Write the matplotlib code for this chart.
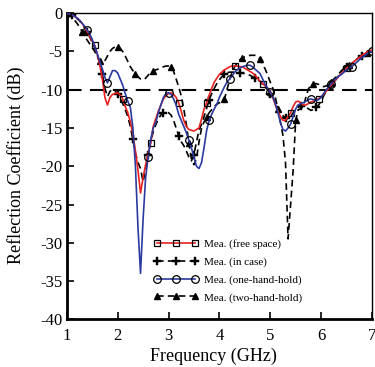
import numpy as np
import matplotlib
matplotlib.use('Agg')
import matplotlib.pyplot as plt

plt.rcParams['font.family'] = 'Liberation Serif'
plt.rcParams['axes.unicode_minus'] = False

# frequency grid (GHz), 0.05 GHz steps
freq = np.round(np.arange(1.0, 7.0001, 0.05), 2)

free_space = [
    0, -0.1, -0.2, -0.4, -0.6, -0.9, -1.3, -1.8, -2.4, -3.0,
    -3.6, -4.2, -5.3, -6.8, -8.6, -11.0, -12.0, -11.0, -10.6, -10.5,
    -10.4, -10.7, -11.2, -12.2, -13.0, -14.2, -15.8, -18.0, -20.5, -23.5,
    -21.5, -19.8, -18.3, -17.0, -14.8, -13.8, -12.8, -12.0, -11.2, -10.8,
    -10.5, -10.4, -10.6, -11.0, -11.7, -12.8, -14.0, -14.8, -15.2, -15.3,
    -15.4, -15.2, -15.0, -13.8, -12.5, -11.7, -10.7, -9.8, -9.0, -8.5,
    -8.0, -7.7, -7.4, -7.2, -7.0, -6.9, -6.9, -6.9, -7.0, -7.0,
    -7.2, -7.4, -7.6, -7.8, -8.1, -8.5, -8.9, -9.2, -9.5, -9.8,
    -10.2, -11.0, -12.0, -12.8, -13.5, -14.0, -14.0, -13.5, -13.0, -12.2,
    -11.6, -11.5, -11.7, -12.0, -12.0, -11.8, -11.6, -11.5, -11.3, -11.2,
    -10.9, -10.6, -10.2, -9.8, -9.4, -9.0, -8.6, -8.2, -7.9, -7.5,
    -7.2, -6.9, -6.6, -6.3, -6.0, -5.8, -5.5, -5.3, -5.1, -4.9,
    -4.8,
]

in_case = [
    0, -0.1, -0.2, -0.4, -0.7, -1.0, -1.4, -1.9, -2.5, -3.1,
    -3.8, -4.5, -5.5, -6.5, -8.0, -9.8, -10.9, -10.2, -10.0, -10.2,
    -10.5, -11.0, -11.8, -12.6, -13.5, -14.8, -16.5, -18.3, -19.5, -20.3,
    -22.0, -20.5, -18.5, -16.8, -15.5, -14.6, -13.8, -13.3, -13.0, -12.9,
    -13.0, -13.3, -14.0, -15.0, -16.0, -16.8, -17.3, -18.0, -18.8, -19.3,
    -18.5, -16.8, -15.3, -14.5, -13.5, -12.4, -11.3, -10.5, -9.8, -9.2,
    -8.7, -8.3, -8.0, -7.8, -7.7, -7.7, -7.7, -7.7, -7.8, -7.8,
    -7.9, -8.0, -8.1, -8.3, -8.5, -8.7, -8.9, -9.3, -9.7, -10.0,
    -10.5, -11.0, -11.7, -12.3, -12.9, -13.4, -13.7, -13.8, -13.5, -13.0,
    -12.6, -12.3, -12.1, -12.0, -12.2, -12.5, -12.7, -12.6, -12.3, -12.0,
    -11.5, -10.8, -10.2, -9.8, -9.5, -9.0, -8.6, -8.1, -7.6, -7.2,
    -7.0, -6.8, -6.6, -6.3, -6.0, -5.8, -5.6, -5.4, -5.2, -5.1,
    -5.0,
]

one_hand = [
    0, -0.1, -0.2, -0.4, -0.6, -0.9, -1.3, -1.7, -2.2, -2.7,
    -3.4, -4.3, -5.3, -6.3, -7.3, -8.4, -9.1, -8.3, -7.5, -7.5,
    -7.8, -8.6, -9.4, -10.5, -11.5, -12.3, -15.0, -20.0, -28.0, -34.0,
    -27.0, -21.5, -18.8, -16.5, -15.0, -14.3, -13.0, -12.0, -11.0, -10.5,
    -10.4, -10.6, -11.2, -12.0, -13.2, -14.0, -14.8, -15.6, -16.6, -17.6,
    -18.8, -20.0, -20.3, -19.5, -17.5, -15.3, -14.0, -13.2, -12.5, -11.9,
    -11.0, -10.3, -9.6, -9.0, -8.6, -8.2, -7.7, -7.4, -7.2, -7.0,
    -6.9, -6.8, -6.8, -7.0, -7.3, -7.6, -7.9, -8.6, -9.3, -9.8,
    -10.3, -10.9, -11.8, -13.0, -14.3, -15.2, -15.4, -15.0, -14.5, -13.5,
    -12.5, -12.0, -11.8, -11.7, -11.5, -11.3, -11.2, -11.3, -11.4, -11.3,
    -11.0, -10.5, -10.0, -9.6, -9.2, -8.8, -8.5, -8.2, -8.0, -7.7,
    -7.4, -7.2, -7.0, -6.7, -6.4, -6.1, -5.8, -5.6, -5.3, -5.1,
    -5.0,
]

two_hand = [
    0, -0.2, -0.5, -0.9, -1.3, -1.8, -2.4, -3.0, -3.5, -4.0,
    -4.5, -5.0, -5.7, -6.3, -6.5, -6.2, -5.6, -5.0, -4.6, -4.4,
    -4.4, -4.6, -5.0, -5.6, -6.3, -7.0, -7.5, -7.9, -8.3, -8.6,
    -8.7, -8.5, -8.1, -7.8, -7.6, -7.4, -7.3, -7.1, -7.0, -6.9,
    -6.9, -7.0, -7.6, -8.6, -9.6, -10.8, -12.5, -14.5, -17.0, -19.0,
    -19.8, -19.0, -16.8, -15.0, -14.2, -13.6, -13.0, -12.6, -12.2, -11.9,
    -11.7, -11.6, -11.2, -10.0, -8.7, -7.7, -7.0, -6.5, -6.1, -5.9,
    -5.7, -5.6, -5.5, -5.5, -5.5, -5.6, -6.0, -6.6, -7.3, -8.1,
    -9.0, -9.8, -11.0, -12.5, -14.2, -16.0, -19.5, -29.5, -25.0, -20.5,
    -14.0, -12.6, -12.5, -12.2, -11.0, -9.9, -9.4, -9.2, -9.2, -9.3,
    -9.5, -9.6, -9.5, -9.3, -9.0, -8.6, -8.3, -7.9, -7.5, -7.2,
    -7.0, -6.8, -6.6, -6.3, -6.0, -5.8, -5.6, -5.4, -5.2, -5.0,
    -4.9,
]

fig = plt.figure(figsize=(3.75, 3.67), dpi=100)
ax = fig.add_axes([0.178, 0.13, 0.814, 0.834])

ax.axhline(-10, color='black', lw=1.5, ls=(0, (7, 4)), zorder=1)

ax.plot(freq, free_space, color='#e8211f', lw=1.2, marker='s', ms=5,
        mfc='none', mec='black', mew=0.9, markevery=(0, 11),
        label='Mea. (free space)', zorder=3)
ax.plot(freq, in_case, color='black', lw=1.2, ls=(0, (4, 2.5)), marker='P', ms=5.5,
        mfc='black', mec='black', mew=0.3, markevery=(2, 6),
        label='Mea. (in case)', zorder=2)
ax.plot(freq, one_hand, color='#2b3a9e', lw=1.2, marker='o', ms=5.5,
        mfc='none', mec='black', mew=0.9, markevery=(0, 8),
        label='Mea. (one-hand-hold)', zorder=4)
ax.plot(freq, two_hand, color='black', lw=1.2, ls=(0, (4, 2.5)), marker='^', ms=5,
        mfc='black', mec='black', markevery=(6, 7),
        label='Mea. (two-hand-hold)', zorder=2)

ax.set_xlim(1, 7)
ax.set_ylim(-40, 0)
ax.set_xticks(range(1, 8))
ax.set_yticks(range(-40, 1, 5))
ax.tick_params(direction='in', length=5, width=1.2, labelsize=12,
               top=False, right=False, pad=3)
ax.tick_params(axis='x', pad=6)
ax.spines['left'].set_linewidth(2)
ax.spines['bottom'].set_linewidth(2)
ax.spines['top'].set_linewidth(1)
ax.spines['right'].set_linewidth(1)

ax.set_xlabel('Frequency (GHz)', fontsize=13)
ax.set_ylabel('Reflection Coefficient (dB)', fontsize=13)
ax.xaxis.set_label_coords(0.48, -0.094)
ax.yaxis.set_label_coords(-0.137, 0.504)

ax.legend(loc='upper left', bbox_to_anchor=(0.285, 0.262), frameon=False,
          fontsize=8, numpoints=3, handlelength=4.0, handletextpad=0.5,
          labelspacing=0.7, borderpad=0, borderaxespad=0)

plt.savefig('out.png', dpi=100)
